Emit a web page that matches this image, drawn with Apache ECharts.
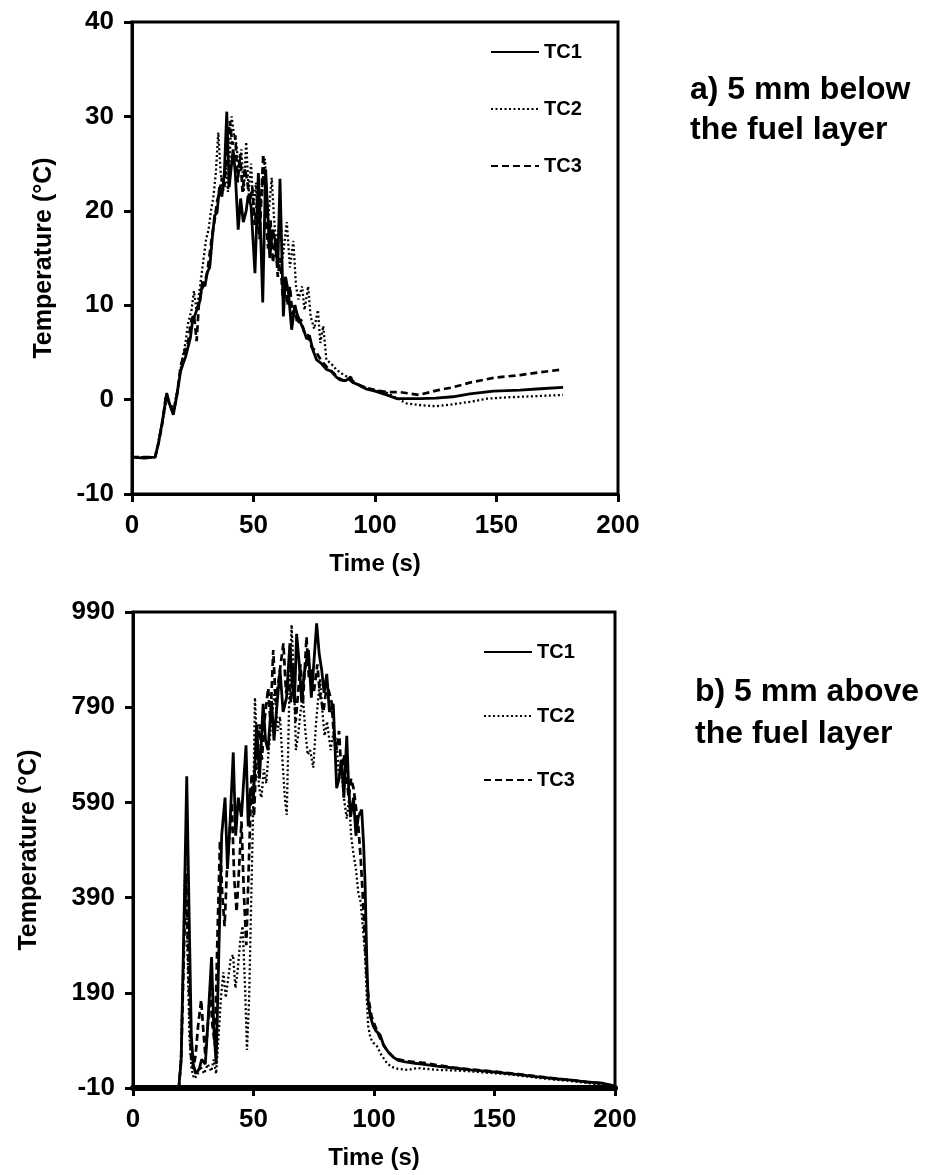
<!DOCTYPE html>
<html>
<head>
<meta charset="utf-8">
<script src="https://cdn.jsdelivr.net/npm/echarts@6/dist/echarts.min.js"></script>
<style>
html,body{margin:0;padding:0;background:#fff;}
#c{width:927px;height:1175px;}
</style>
</head>
<body>
<div id="c"></div>
<script>
// ---------- Data: (a) 5 mm below the fuel layer ----------
const a_TC1_t = [0,5,9.5,11,12,13,14.3,15.5,17,18.5,20,21,22,23,24,25,26,27,28,29,30,31,32,33,34,35,36,37,38,39,40,41,41.6,42.5,43.7,44.7,45.8,47,47.8,49,50.6,52,53,53.8,55,56,56.7,57.8,58.8,60,60.9,62.3,63.2,64.4,65.7,67,68,69.1,70.5,71.9,73,74.5,76,78,80,82,84,85.6,88,90,91,93,95,96.6,100,104.8,109,118.6,125,132,139,148.7,159.7,168,177.4];
const a_TC1_v = [-6.1,-6.2,-6.1,-4.5,-3,-1.5,0.7,-0.5,-1.6,0.5,3,3.8,4.5,5.5,6.5,8.5,9,9.8,10.5,12.5,12,13.5,14,17,19.5,19.8,22.5,21.5,24,30.5,22.5,25,26.5,24,18,21.3,18.8,20,21.6,20.5,13.4,24,17,10.3,24.4,19,15,18,17,14,23.4,8.8,13,11.3,7.4,10,9,8.3,7.5,6.4,6.8,5.2,4.2,3.8,3.2,3,2.4,2.1,2,2.4,1.8,1.6,1.3,1.1,0.9,0.5,0.1,0.1,0.15,0.3,0.6,0.9,1.0,1.15,1.3];

const a_TC2_t = [0,9.5,10.5,11.5,12.5,13.5,14.5,16,17.5,19,20.5,22,23,24.5,25.5,26.5,27.5,28.5,29.5,30.5,31.5,32.5,33.5,34.5,35.5,36.5,37.5,38.5,39.5,41,42,43,44,45,46,47,48,49,50,51,52,53,54.7,56,57.5,58.5,59.5,61,62,63.7,65,66.4,67.5,68.5,70,71,72.5,73.5,75,76.5,77.5,78.7,80,82,84,86,88,90,93,97,100,105,110,113,119,125,132,140,146,155,165,177.4];
const a_TC2_v = [-6.1,-6.1,-5,-3.5,-2.5,-1,0.2,-0.8,-0.5,1.5,4,6,8,9.5,11.5,9.5,11,13,15,17,18,20,21.5,24,28.3,24,22,25,22,30,28,27,24,26.5,22,27.3,22,25,20,23,18,21,25.5,19,23.5,19,16,20,15,18.8,14,16.8,12,10.6,12,9.5,12,8.8,7.5,9.5,6,7.8,4.2,3.8,3.2,2.8,2.5,2.2,1.5,1.2,1.0,0.7,0,-0.4,-0.6,-0.7,-0.5,-0.2,0.1,0.25,0.35,0.5];

const a_TC3_t = [0,9.5,11,12.5,14,15.5,17,18.5,20,21.5,23,24.5,25.5,26.6,27.5,28.5,30,31,32,33,34,35,36,37,38,39,40.3,41.3,42.5,43.5,44.5,45.5,46.5,47.5,48.5,49.5,50.5,51.5,52.5,54,55,56,57,58,59,60,61,62,63,64,65,66,67,68,69.5,71,72.5,74,75.5,77,79,81,83,85,87,89,91,94,97,100,105,110,118,126,132,139,148.7,159.7,168,177.4];
const a_TC3_v = [-6.1,-6.1,-4.5,-2.5,0.5,-0.5,-1.4,0.5,3.5,5,6,8.5,9,6.2,10,11.5,12.5,13.5,15.5,17.5,19,21,22,23.5,22.5,26,29.5,27,28,23,26,22,24.5,23,21,22.5,18.5,21,17,26,20,16,19,14.5,17,13,15,11,13,10,12,9,10,8,8.5,7,6.8,5.5,5.2,4.5,3.8,3.2,2.8,2.3,2.0,2.2,1.8,1.5,1.2,1.0,0.8,0.8,0.5,1.0,1.3,1.8,2.3,2.6,2.9,3.2];

// ---------- Data: (b) 5 mm above the fuel layer ----------
const b_TC1_t = [0,19,20,21.2,22.3,23.3,24.2,25,26,27.5,28.5,30,31,32.6,33.5,34.5,35.5,36.8,38.2,39.2,40.3,41.6,42.6,43.7,45,46,46.9,47.8,48.8,50,51.3,52.5,54,55,56,57.5,58.5,59.5,61,62.3,63.7,65.1,66,67,67.9,69,70,71,72.8,74,75,76.2,77.3,78.3,79.3,80.4,81.5,83.1,84.5,85.5,86.5,87.5,88.7,89.5,90.3,91.5,92.5,93.5,94.9,95.7,96.3,97,97.6,98.5,99.7,100.8,102.5,104,106,108,110,113,117,120,126,133,140,147,153,160,167,174,181,188,195,200];
const b_TC1_v = [-10,-10,50,350,645,350,100,40,20,30,50,40,120,265,120,40,250,521,600,450,550,695,520,600,560,640,710,540,620,600,754,640,797,720,700,803,720,780,868,780,810,924,840,800,944,880,800,860,910,810,880,966,900,868,820,860,780,797,620,640,680,600,730,620,560,600,520,560,575,500,420,260,170,140,120,110,102,80,65,55,48,45,42,40,36,32,28,25,22,18,14,10,7,3,0,-6];

const b_TC2_t = [0,19,19.8,20.8,21.7,22.5,23.4,24.3,25.3,26.5,28,29.5,31,32.5,33.5,34.5,35.5,36.5,37.5,38.5,39.5,40.5,41.5,42.5,43.5,44.5,45.5,46.5,47.3,48.2,49,49.8,50.6,51.5,52.3,53.3,54.3,55.3,56.3,57.8,58.9,60,61,62,63,63.8,64.8,65.8,66.8,67.6,68.5,69.5,70.5,71.5,72.5,73.5,74.8,76,77.6,78.6,79.5,80.5,82,83.3,84.5,85.5,86.5,87.5,88.7,89.7,90.5,91.4,92.5,93.5,94.5,95.5,96.3,97,97.6,98.5,99.7,101,103,105,107,110,114,118,122,126,133,140,147,153,160,167,174,181,188,195,200];
const b_TC2_v = [-10,-10,40,250,470,300,100,30,10,15,35,20,40,25,50,20,100,180,233,180,220,260,270,200,240,300,330,200,70,180,373,560,810,700,620,600,660,630,700,780,830,740,770,680,600,564,800,963,850,700,730,780,810,740,690,700,663,760,850,780,730,760,700,740,715,640,660,600,556,600,520,485,450,400,380,320,270,180,120,95,85,80,60,45,35,30,28,32,30,28,27,25,22,20,16,12,8,5,1,-3,-7];

const b_TC3_t = [0,19,20,21,22,23,24,25,26,27,28.3,29.2,30,31,32,33,34,35,36.1,37,38,39,40,41,42,43,44,45,46,47,48,49.2,50.2,51.3,52.5,53.5,54.5,56.1,57,58.2,59.2,60.5,62.4,63.5,64.5,65.5,66.5,67.5,68.5,69.5,70.5,72,73,74,75,76.5,77.5,79,80.5,82.4,83.5,84.5,85.5,86.5,87.5,88.5,89.5,90.5,91.5,92.5,93.5,94.5,95.5,96.3,97,97.8,99,100.5,102,104,106,108,110,114,118,122,126,133,140,147,153,160,167,174,181,188,195,200];
const b_TC3_v = [-10,-10,50,250,440,250,60,30,60,120,175,110,60,120,190,120,80,300,510,400,330,450,520,590,430,360,450,550,400,290,450,650,560,700,754,680,760,830,760,910,800,850,924,820,850,800,880,760,820,880,800,938,850,870,820,880,820,780,840,800,720,700,740,650,690,650,600,640,620,580,540,470,380,290,220,175,140,120,100,80,65,55,50,46,44,42,38,33,29,26,23,19,15,11,7,3,-1,-6];

// ---------- Axis ticks / labels ----------
const seriesNames = ['TC1','TC2','TC3'];
const aTicks = {min:-10, max:40, interval:10};
const bTicks = {min:-10, max:990, interval:200};
const timeTicks = {min:0, max:200, interval:50};
const annotA = 'a) 5 mm below\nthe fuel layer';
const annotB = 'b) 5 mm above\nthe fuel layer';
const xTitle = 'Time (s)';
const yTitle = 'Temperature (\u00B0C)';

function zip(t, v){ return t.map((x,i)=>[x, v[i]]); }

const FONT = '"Liberation Sans", Arial, Helvetica, sans-serif';
const styles = [
  {type:'solid', width:2.8},
  {type:[2,2.5], width:2.3},
  {type:[7,4], width:2.7}
];

const chart = echarts.init(document.getElementById('c'), null, {renderer:'canvas'});

function mkSeries(name, data, idx, axisIdx){
  return {
    name, type:'line', data, xAxisIndex:axisIdx, yAxisIndex:axisIdx,
    showSymbol:false, symbol:'none', animation:false, silent:true,
    lineStyle:{color:'#000', width:styles[idx].width, type:styles[idx].type},
    itemStyle:{color:'#000'}, z: 3 - idx
  };
}

function xAx(gi, lw){
  return {
    type:'value', gridIndex:gi, min:timeTicks.min, max:timeTicks.max, interval:timeTicks.interval,
    name:xTitle, nameLocation:'middle', nameGap:58,
    nameTextStyle:{fontFamily:FONT, fontWeight:'bold', fontSize:24, color:'#000'},
    axisLine:{show:true, onZero:false, lineStyle:{color:'#000', width:lw}},
    axisTick:{show:true, inside:false, length:8, lineStyle:{color:'#000', width:3}},
    axisLabel:{fontFamily:FONT, fontWeight:'bold', fontSize:26, color:'#000', margin:19},
    splitLine:{show:false}
  };
}
function yAx(gi, t, gap){
  return {
    type:'value', gridIndex:gi, min:t.min, max:t.max, interval:t.interval,
    name:yTitle, nameLocation:'middle', nameGap:gap, nameRotate:90,
    nameTextStyle:{fontFamily:FONT, fontWeight:'bold', fontSize:25, color:'#000'},
    axisLine:{show:true, onZero:false, lineStyle:{color:'#000', width:3}},
    axisTick:{show:true, inside:false, length:8, lineStyle:{color:'#000', width:3}},
    axisLabel:{fontFamily:FONT, fontWeight:'bold', fontSize:26, color:'#000', margin:18},
    splitLine:{show:false}
  };
}

const legendCommon = {
  orient:'vertical', data:seriesNames, selectedMode:false,
  itemWidth:48, itemHeight:14,
  itemStyle:{color:'transparent', borderColor:'transparent', borderWidth:0, opacity:0},
  textStyle:{fontFamily:FONT, fontWeight:'bold', fontSize:20, color:'#000'},
  padding:0
};

chart.setOption({
  backgroundColor:'#fff',
  animation:false,
  title:[
    {text:annotA, left:690, top:70, padding:0, textStyle:{fontFamily:FONT, fontWeight:'bold', fontSize:32, color:'#000', lineHeight:40}},
    {text:annotB, left:695, top:671, padding:0, textStyle:{fontFamily:FONT, fontWeight:'bold', fontSize:32, color:'#000', lineHeight:42}}
  ],
  legend:[
    Object.assign({}, legendCommon, {left:490, top:42, itemGap:37}),
    Object.assign({}, legendCommon, {left:483, top:642, itemGap:44})
  ],
  grid:[
    {left:132, top:22, width:486, height:472, show:true, borderColor:'#000', borderWidth:3, backgroundColor:'transparent'},
    {left:133, top:612, width:482, height:476, show:true, borderColor:'#000', borderWidth:3, backgroundColor:'transparent'}
  ],
  xAxis:[ xAx(0,3), xAx(1,6) ],
  yAxis:[ yAx(0,aTicks,75), yAx(1,bTicks,91) ],
  series:[
    mkSeries('TC1', zip(a_TC1_t,a_TC1_v), 0, 0),
    mkSeries('TC2', zip(a_TC2_t,a_TC2_v), 1, 0),
    mkSeries('TC3', zip(a_TC3_t,a_TC3_v), 2, 0),
    mkSeries('TC1', zip(b_TC1_t,b_TC1_v), 0, 1),
    mkSeries('TC2', zip(b_TC2_t,b_TC2_v), 1, 1),
    mkSeries('TC3', zip(b_TC3_t,b_TC3_v), 2, 1)
  ]
});
</script>
</body>
</html>
